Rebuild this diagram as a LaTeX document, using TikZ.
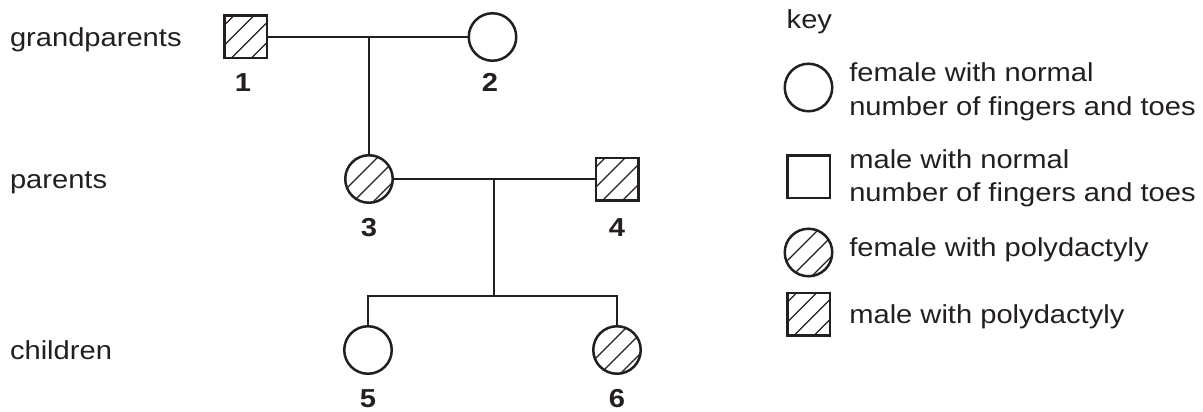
\documentclass[tikz,border=0pt]{standalone}
\usepackage{fontspec}
\setmainfont{Liberation Sans}[FakeStretch=1.12]
\definecolor{ink}{RGB}{35,31,32}
\begin{document}
\begin{tikzpicture}[x=1pt,y=-1pt,
  every node/.style={inner sep=0pt,outer sep=0pt,text=ink},
  txt/.style={font=\fontsize{26}{34}\selectfont},
  num/.style={font=\fontsize{26}{34}\selectfont\bfseries,anchor=base},
  fem/.style={circle,draw=ink,line width=2.5pt,minimum size=47.5pt},
  mal/.style={rectangle,draw=ink,line width=2.5pt,minimum size=42.5pt},
  hatch/.style={path picture={
    \foreach \k in {-3,...,3}{
      \draw[ink,line width=1.2pt] ([xshift={(\k*20-33)*1pt},yshift=-40pt]path picture bounding box.center) -- ++(80pt,80pt);
    }}},
  link/.style={draw=ink,line width=2.5pt}
]
\useasboundingbox (0,0) rectangle (1203,412);

% generation labels
\node[txt,anchor=base west] (gl) at (10,46.7) {grandparents};
\node[txt,anchor=base west] (pl) at (10,188.7) {parents};
\node[txt,anchor=base west] (cl) at (10,359.7) {children};

% individuals
\node[mal,hatch] (n1) at (245.5,37) {};
\node[fem] (n2) at (492.5,37) {};
\node[fem,hatch] (n3) at (369,179) {};
\node[mal,hatch] (n4) at (617,179) {};
\node[fem] (n5) at (368,350) {};
\node[fem,hatch] (n6) at (617,350) {};

% numbers
\node[num] (l1) at (243,92) {1};
\node[num] (l2) at (490,92) {2};
\node[num] (l3) at (369,236.7) {3};
\node[num] (l4) at (617,236.7) {4};
\node[num] (l5) at (368,407.5) {5};
\node[num] (l6) at (617,407.5) {6};

% connectors
\coordinate (m1) at (369,37);
\coordinate (m2) at (494,179);
\coordinate (s) at (494,296);
\draw[link] (n1.east) -- (n2.west);
\draw[link] (m1) -- (n3.north);
\draw[link] (n3.east) -- (n4.west);
\draw[link] (m2) -- (s);
\draw[link] (n5.north) |- (s) -| (n6.north);

% key
\node[txt,anchor=base west] (key) at (786.7,28.3) {key};
\node[fem] (k1) at (808.5,87.5) {};
\node[mal] (k2) at (808.5,176.5) {};
\node[fem,hatch] (k3) at (808.5,252.5) {};
\node[mal,hatch] (k4) at (808.5,314) {};
\node[txt,anchor=base west] (t1a) at (849.3,81.7) {female with normal};
\node[txt,anchor=base west] (t1b) at (849.3,115) {number of fingers and toes};
\node[txt,anchor=base west] (t2a) at (849.3,168.3) {male with normal};
\node[txt,anchor=base west] (t2b) at (849.3,201.7) {number of fingers and toes};
\node[txt,anchor=base west] (t3) at (849.3,256.7) {female with polydactyly};
\node[txt,anchor=base west] (t4) at (849.3,323.3) {male with polydactyly};
\end{tikzpicture}
\end{document}
